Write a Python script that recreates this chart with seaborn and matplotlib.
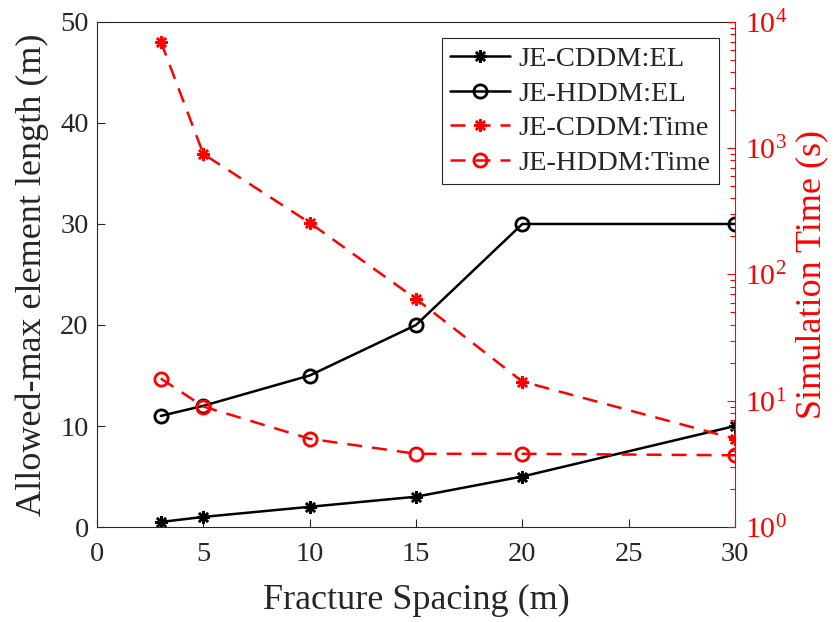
import matplotlib
matplotlib.use("Agg")
import matplotlib.pyplot as plt
import seaborn as sns
from matplotlib.ticker import LogLocator, LogFormatterMathtext, NullFormatter, MultipleLocator

# Fracture spacing (m)
spacing = [3, 5, 10, 15, 20, 30]
# Allowed-max element length (m)
cddm_el = [0.5, 1, 2, 3, 5, 10]
hddm_el = [11, 12, 15, 20, 30, 30]
# Simulation time (s)
cddm_time = [7000, 900, 257, 64, 14.2, 5.0]
hddm_time = [15, 9.0, 5.0, 3.8, 3.8, 3.7]

labels = ["JE-CDDM:EL", "JE-HDDM:EL", "JE-CDDM:Time", "JE-HDDM:Time"]

sns.set_theme(style="white")
plt.rcParams["font.family"] = ["Liberation Serif", "DejaVu Serif"]
plt.rcParams["mathtext.fontset"] = "custom"
plt.rcParams["mathtext.rm"] = "Liberation Serif"
plt.rcParams["mathtext.it"] = "Liberation Serif:italic"

AXC = "#262626"
FS_TICK = 20.5
FS_LABEL = 26
LW = 1.8
asterisk = (8, 2, 0)
dash = (0, (6.0, 4.0))

fig = plt.figure(figsize=(8.4, 6.22), dpi=100)
ax = fig.add_axes([0.1155, 0.1527, 0.7595, 0.812])
ax2 = ax.twinx()

sns.lineplot(x=spacing, y=cddm_el, ax=ax, color="black", lw=LW, marker=asterisk,
             ms=9, mew=1.8, mec="black", label=labels[0], legend=False)
sns.lineplot(x=spacing, y=hddm_el, ax=ax, color="black", lw=LW, marker="o",
             ms=9.5, mew=2.0, mec="black", mfc="none", label=labels[1], legend=False)
sns.lineplot(x=spacing, y=cddm_time, ax=ax2, color="red", lw=LW, linestyle=dash,
             marker=asterisk, ms=9, mew=1.8, mec="red", label=labels[2], legend=False)
sns.lineplot(x=spacing, y=hddm_time, ax=ax2, color="red", lw=LW, linestyle=dash,
             marker="o", ms=9.5, mew=2.0, mec="red", mfc="none", label=labels[3], legend=False)

# left axis / x axis
ax.set_xlim(0, 30)
ax.set_ylim(0, 50)
ax.xaxis.set_major_locator(MultipleLocator(5))
ax.yaxis.set_major_locator(MultipleLocator(10))
ax.tick_params(axis="both", which="major", direction="in", length=6, width=0.8,
               colors=AXC, labelcolor=AXC, labelsize=FS_TICK, pad=6,
               bottom=True, left=True, top=False, right=False)
ax.tick_params(axis="x", pad=11)
ax.set_xlabel("Fracture Spacing (m)", fontsize=FS_LABEL, color=AXC, labelpad=12)
ax.set_ylabel("Allowed-max element length (m)", fontsize=FS_LABEL, color=AXC, labelpad=8)
for s in ["left", "bottom", "top"]:
    ax.spines[s].set_color(AXC)
    ax.spines[s].set_linewidth(0.8)
ax.spines["right"].set_visible(False)

# right log axis
ax2.set_yscale("log")
ax2.set_ylim(1, 1e4)
ax2.yaxis.set_major_locator(LogLocator(base=10, numticks=10))
ax2.yaxis.set_major_formatter(LogFormatterMathtext())
ax2.yaxis.set_minor_locator(LogLocator(base=10, subs=range(2, 10), numticks=20))
ax2.yaxis.set_minor_formatter(NullFormatter())
ax2.tick_params(axis="y", which="major", direction="in", length=6, width=0.8,
                colors="red", labelcolor="red", labelsize=FS_TICK + 1, pad=7, right=True)
ax2.tick_params(axis="y", which="minor", direction="in", length=3.5, width=0.8,
                colors="red", right=True)
ax2.set_ylabel("Simulation Time (s)", fontsize=FS_LABEL, color="red", labelpad=6)
for s in ["left", "bottom", "top"]:
    ax2.spines[s].set_visible(False)
ax2.spines["right"].set_color("red")
ax2.spines["right"].set_linewidth(0.8)

handles = ax.get_lines() + ax2.get_lines()
leg = ax2.legend(handles, labels, loc="upper right", fontsize=FS_TICK,
                 frameon=True, fancybox=False, framealpha=1, edgecolor=AXC,
                 handlelength=2.1, handletextpad=0.3, labelspacing=0.3,
                 borderpad=0.3, borderaxespad=0.55)
leg.get_frame().set_linewidth(0.8)
for t in leg.get_texts():
    t.set_color(AXC)

fig.savefig("out.png", dpi=100)
